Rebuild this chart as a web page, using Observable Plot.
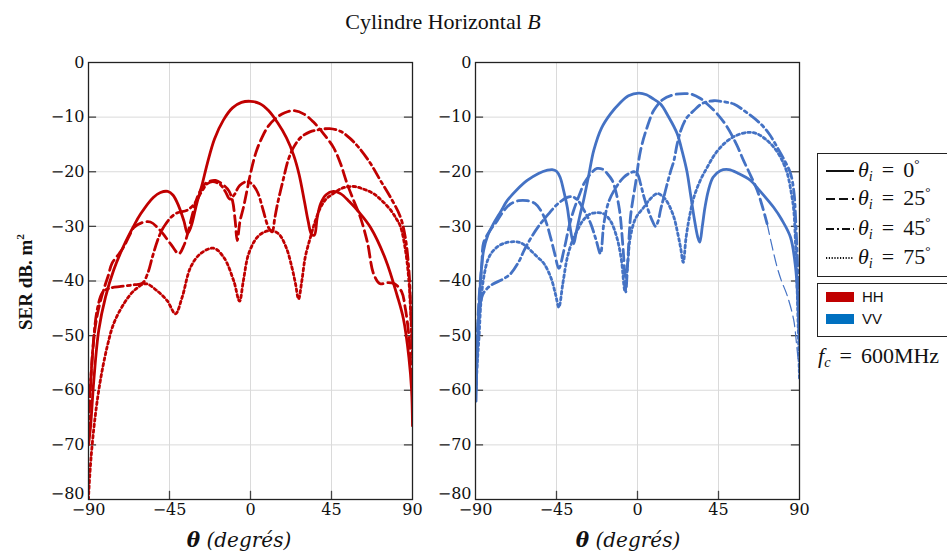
<!DOCTYPE html>
<html><head><meta charset="utf-8">
<script src="https://cdn.jsdelivr.net/npm/d3@7"></script>
<script src="https://cdn.jsdelivr.net/npm/@observablehq/plot@0.6"></script>
<style>
body{margin:0;background:#fff;}
#wrap{position:relative;width:947px;height:552px;overflow:hidden;font-family:"Liberation Serif",serif;color:#111;}
.abs{position:absolute;white-space:nowrap;}
.box{border:1.3px solid #222;box-sizing:border-box;}
.eq{margin:0 9px;}
sub{font-size:0.65em;vertical-align:-0.3em;line-height:0;}
sup{font-size:0.6em;vertical-align:0.7em;line-height:0;}
</style></head><body><div id="wrap"></div>
<script>
// ---- data ----
const thetaTicks = [-90, -45, 0, 45, 90];
const dbTicks = [0, -10, -20, -30, -40, -50, -60, -70, -80];

// HH (left panel)
const hh0 = [[-90,-70],[-88.9,-66.8],[-87,-58],[-84.3,-49],[-80.6,-43],[-76,-38],[-70.5,-33.6],[-65,-30],[-61,-27.7],[-54,-24.7],[-50,-23.8],[-46,-23.6],[-43,-24.3],[-40,-26.2],[-37,-29],[-35,-31.3],[-33,-30],[-30,-26],[-27,-22.5],[-24,-18.5],[-20,-14],[-15,-10.5],[-10,-8.3],[-5,-7.3],[0,-7.1],[5,-7.5],[10,-8.8],[15,-11],[20,-13.8],[24,-17],[27,-20.5],[30,-25.5],[32,-29],[34,-31.5],[35.5,-31.6],[37,-28.5],[39,-25.8],[42,-24.2],[46,-23.6],[50,-24],[55,-25.5],[60,-27.3],[66.7,-30.2],[75,-36],[81.5,-42.7],[85,-47],[88,-54],[89.5,-60],[90,-66.5]];
const hh25 = [[-90,-64],[-88.5,-57],[-86.5,-49],[-84,-44.5],[-81,-41],[-79,-39],[-77,-36.8],[-73,-35],[-70.5,-33.8],[-67,-31.5],[-64.8,-30.2],[-60,-29.3],[-55.6,-29.2],[-50,-30.8],[-44.4,-33.2],[-39.8,-35],[-37,-33.5],[-35,-31.4],[-32,-27.5],[-29.6,-24.7],[-26,-22.5],[-24,-21.9],[-19.4,-21.6],[-14.8,-22.5],[-12,-23.5],[-10,-25.3],[-8.5,-29],[-7.4,-32.6],[-5.8,-29],[-3.9,-26.5],[-2,-23.5],[0,-20.3],[3,-16.5],[5.6,-14.3],[10,-11.6],[14.8,-10],[19,-9.2],[24,-8.8],[30,-9.5],[35,-10.9],[40,-12.8],[46,-15.5],[50,-18.5],[53.7,-22.2],[57,-25],[61,-28.3],[65,-33],[68.4,-38.7],[72,-40.5],[76,-40.3],[80,-40.5],[84,-42],[86,-45],[88,-50],[89,-55],[90,-60]];
const hh45 = [[-90,-68],[-89,-60],[-87.5,-52],[-85,-45],[-82,-42],[-78,-41.3],[-72,-41],[-65,-40.7],[-60,-40.4],[-57,-38.5],[-54.5,-35.6],[-51,-32],[-48,-30],[-44,-28.3],[-40.6,-27.5],[-35,-27],[-31,-25.8],[-27.8,-24],[-24,-22.2],[-21,-21.8],[-17,-22.3],[-14,-23.6],[-11.5,-25],[-9,-24.2],[-6,-22.5],[-2,-21.8],[1,-22.3],[4,-23.8],[7,-27],[10,-30.2],[12,-31],[13.5,-28.5],[15,-25.9],[18.5,-21],[21,-17.8],[24,-15.5],[28,-13.7],[33,-12.7],[38,-12.3],[44,-12.1],[50,-12.6],[55,-13.8],[60,-15.5],[66.7,-18.5],[72,-21.5],[77.8,-24.7],[83.3,-28.3],[86,-32],[88,-38],[89,-45],[90,-54]];
const hh75 = [[-90,-80],[-89.8,-78.4],[-88.5,-72],[-86.1,-64.3],[-83.3,-58],[-79.6,-52],[-76,-47.8],[-70.4,-44.2],[-64.8,-41.8],[-58.3,-40.5],[-51.9,-41.8],[-46.3,-43.6],[-41.7,-46],[-38,-43],[-33.3,-37.5],[-27.8,-35],[-20.5,-34],[-14.8,-35.7],[-9.3,-40],[-6.1,-43.7],[-4,-40],[-1,-35],[3.7,-32],[8,-31],[12,-30.8],[16,-31.5],[20,-34],[23,-37.5],[25,-40.5],[26.7,-43.3],[28.5,-40],[30.5,-35.5],[33.3,-32],[36,-29],[39,-26.5],[42,-25],[46,-24],[51,-23],[57.3,-22.7],[63,-23.2],[68.3,-24],[73,-25.3],[77.8,-27],[81,-28.6],[83.3,-30],[86.1,-34.4],[88,-40],[89,-46],[90,-54]];

// VV (right panel)
const vv0 = [[-89.7,-62],[-89,-52],[-88,-45],[-87.2,-40],[-85.5,-34.4],[-83,-31.5],[-80,-29.5],[-76,-27.3],[-72.4,-25.3],[-67,-23.3],[-61.3,-21.6],[-55,-20.3],[-50,-19.7],[-47.4,-19.6],[-45,-19.9],[-43,-21],[-41,-23.5],[-39,-26.5],[-37.5,-30],[-35.5,-33.2],[-34,-31],[-32,-28],[-30,-25.3],[-27,-20.5],[-24.3,-16.1],[-20,-12],[-15,-9.4],[-10,-7.5],[-5,-6.1],[0.75,-5.6],[5,-5.9],[8,-6.5],[12.8,-7.6],[17,-9.8],[22,-13],[25,-16.5],[27.5,-20],[29.4,-24],[31.5,-28.5],[33.5,-32],[34.6,-32.9],[36,-30],[37.5,-26.5],[39.4,-23.4],[42,-21],[46,-19.8],[50.7,-19.6],[56,-20.3],[62.8,-21.6],[68,-23.5],[75.6,-26.5],[80,-28.7],[85,-32],[87.8,-37.5],[89,-43],[90,-51]];
const vv25 = [[-89.7,-58],[-89,-50],[-88,-43],[-86.5,-37],[-85.5,-33],[-82,-30.8],[-78,-29],[-74,-27],[-70.6,-25.9],[-66,-25.3],[-61.3,-25.3],[-57,-25.8],[-53.9,-27],[-51,-29],[-48.3,-32],[-46,-35],[-43.7,-37.7],[-40.9,-34.4],[-38,-30],[-35.4,-27],[-32,-24],[-29.8,-22.2],[-25,-20],[-22.4,-19.4],[-19,-19.6],[-16.9,-20.3],[-14,-21.6],[-12.2,-23.4],[-10,-27],[-8.5,-32],[-7.2,-38],[-6.5,-42],[-5.5,-37],[-3.9,-28.3],[-2.5,-25],[-1.1,-22.2],[1.7,-16.1],[5.4,-11.8],[9,-8.8],[14,-6.8],[20,-5.9],[26,-5.7],[30,-5.8],[35,-6.6],[38.7,-7.6],[44,-9.3],[49.8,-11.8],[55,-15],[59,-18],[63,-20.8],[66.5,-23.4],[69.5,-26.5],[72,-29.5]];
const vv25tail = [[72,-29.5],[75,-34],[77.6,-37.5],[80,-40],[83,-42.5],[86.7,-47],[88.5,-52],[90,-57]];
const vv45 = [[-89.7,-60],[-89,-52],[-88,-46],[-86,-42.5],[-83,-41.2],[-80,-40.5],[-75,-39.7],[-70.6,-38.7],[-66,-36.5],[-63,-34.4],[-59,-32],[-55,-30],[-49.4,-27.7],[-44,-25.8],[-39,-24.7],[-36,-24.6],[-33,-25.3],[-29.8,-27],[-26,-29.5],[-23,-32.5],[-20.6,-35],[-18.7,-29.5],[-16,-25.5],[-12.2,-23],[-7.6,-21],[-4,-20.2],[-2,-20],[0,-20.4],[1.7,-22.2],[3.5,-24.5],[5.4,-26.5],[8,-28.8],[10,-30],[11.5,-29],[12.8,-27],[14.5,-24.8],[16.5,-22.2],[18.5,-19.8],[20.2,-18],[22,-15],[24,-12.5],[27,-10.3],[31.3,-8.8],[36,-7.5],[42.4,-7],[48,-7.2],[53.5,-7.6],[60,-9],[68.3,-11.2],[73,-13],[77.6,-15.5],[81,-17.5],[85,-20.3],[87,-24],[87.8,-28.3],[88.8,-36],[89.5,-44],[90,-50]];
const vv75 = [[-89.7,-60],[-89,-55],[-88,-50],[-87,-44],[-85.4,-39.3],[-83,-36],[-80,-34.4],[-75,-33.2],[-68.7,-32.8],[-65,-33],[-61.3,-33.8],[-56,-35.5],[-52,-36.8],[-48,-39.5],[-45.5,-42.5],[-43.7,-44.8],[-41.5,-40.5],[-39,-35.7],[-36,-32.5],[-33.5,-30.8],[-30,-28.8],[-26,-27.7],[-22,-27.5],[-18.7,-27.7],[-15,-29],[-11.5,-32],[-9,-36],[-7,-41.8],[-5.5,-37],[-4,-32],[-1,-28.5],[3.5,-26.5],[7,-25],[11,-24],[14,-24.5],[17,-25.8],[20.2,-28.3],[22.5,-31.5],[24,-34],[25.4,-36.6],[27,-32],[29,-28],[31.3,-24.7],[35,-21.5],[38.7,-19.2],[43,-16.8],[48,-14.9],[54,-13.5],[61,-12.8],[66,-13],[71,-14],[75.7,-15.5],[80,-17.7],[83.2,-20.3],[85.5,-24],[86.8,-27],[88,-35],[89,-45],[90,-58]];

const legendLabels = ["0", "25", "45", "75"];
const polarLabels = ["HH", "VV"];
const fcLabel = "600MHz";

// ---- styles ----
const HH_COLOR = "#c00000";
const VV_COLOR = "#4472c4";
const VV_SWATCH = "#0070c0";
const DASH = {solid: null, dashed: "11,5", dashdot: "11,4,3,4", dotted: "2.6,3"};
const fmt = d => d < 0 ? "\u2212" + Math.abs(d) : String(d);
const TICKFONT = "DejaVu Serif, serif";

function panel(curves, color, width, marginLeft, marginRight) {
  const lines = curves.map(c => Plot.line(c.data, {
    x: d => d[0], y: d => d[1], stroke: color, strokeWidth: c.w || 2.8,
    strokeDasharray: DASH[c.style], curve: "catmull-rom", clip: true,
    strokeLinejoin: "round"
  }));
  return Plot.plot({
    width, height: 552, marginLeft, marginRight, marginTop: 62, marginBottom: 53,
    x: {domain: [-90, 90], label: null},
    y: {domain: [-80, 0], label: null},
    style: {fontFamily: TICKFONT, fontSize: "16px", color: "#111", background: "transparent", overflow: "visible"},
    marks: [
      Plot.gridX([-45, 0, 45], {stroke: "#dadada", strokeOpacity: 1, strokeWidth: 1}),
      Plot.gridY(dbTicks.slice(1, -1), {stroke: "#dadada", strokeOpacity: 1, strokeWidth: 1}),
      Plot.ruleY(dbTicks.slice(1, -1), {y: d => d, x1: -90, x2: -85.5, stroke: "#444", strokeWidth: 1.3}),
      Plot.ruleY(dbTicks.slice(1, -1), {y: d => d, x1: 85.5, x2: 90, stroke: "#444", strokeWidth: 1.3}),
      Plot.ruleX([-45, 0, 45], {x: d => d, y1: -80, y2: -78.5, stroke: "#444", strokeWidth: 1.3}),
      Plot.axisX(thetaTicks, {tickSize: 0, tickPadding: 4, tickFormat: fmt, fontSize: 16}),
      Plot.axisY(dbTicks.slice(0, -1), {tickSize: 0, tickPadding: 4, tickFormat: fmt, fontSize: 16}),
      Plot.axisY([-80], {tickSize: 0, tickPadding: 4, tickFormat: fmt, fontSize: 16, dy: -6}),
      ...lines,
      Plot.frame({stroke: "#222", strokeWidth: 1.3})
    ]
  });
}

const wrap = document.getElementById("wrap");
const left = panel([
  {data: hh0, style: "solid"}, {data: hh25, style: "dashed"},
  {data: hh45, style: "dashdot"}, {data: hh75, style: "dotted"}
], HH_COLOR, 440, 88, 28);
left.style.position = "absolute"; left.style.left = "0px"; left.style.top = "0px";
wrap.appendChild(left);

const right = panel([
  {data: vv0, style: "solid"}, {data: vv25, style: "dashed"}, {data: vv25tail, style: "dashed", w: 1.2},
  {data: vv45, style: "dashdot"}, {data: vv75, style: "dotted"}
], VV_COLOR, 380, 35, 21);
right.style.position = "absolute"; right.style.left = "440px"; right.style.top = "0px";
wrap.appendChild(right);

function add(html, css) {
  const el = document.createElement("div");
  el.className = "abs";
  el.innerHTML = html;
  Object.assign(el.style, css);
  wrap.appendChild(el);
  return el;
}
// title
add('Cylindre Horizontal <i>B</i>', {left: "0px", width: "886px", textAlign: "center", top: "9px", fontSize: "22px"});
// y label
add('SER dB. m<sup>2</sup>', {left: "26px", top: "282px", transform: "translate(-50%,-50%) rotate(-90deg)", fontSize: "19px", fontWeight: "bold"});
// x labels
const xl = '<b><i>θ</i></b> <i>(degrés)</i>';
const xlCss = {top: "540px", transform: "translate(-50%,-50%)", fontSize: "20px", fontFamily: "DejaVu Serif, serif"};
add(xl, Object.assign({left: "239px"}, xlCss));
add(xl, Object.assign({left: "628px"}, xlCss));

// legend box 1
add('', {left: "817px", top: "153px", width: "150px", height: "124px"}).classList.add("box");
const rowY = [171, 199, 229, 258];
const styleKeys = ["solid", "dashed", "dashdot", "dotted"];
const sampleDash = {solid: "", dashed: "9,4", dashdot: "8,3,2,3", dotted: "1.2,1.6"};
legendLabels.forEach((lab, i) => {
  const da = sampleDash[styleKeys[i]];
  add(`<svg width="28" height="6"><line x1="0" y1="3" x2="28" y2="3" stroke="#111" stroke-width="2" ${da ? `stroke-dasharray="${da}"` : ""}/></svg>`,
      {left: "826px", top: (rowY[i] - 3) + "px", height: "6px", lineHeight: "0"});
  add(`<i>θ</i><sub><i>i</i></sub><span class="eq">=</span>${lab}<sup>°</sup>`, {left: "858px", top: (rowY[i] - 12) + "px", fontSize: "22px", lineHeight: "22px"});
});
// legend box 2
add('', {left: "817px", top: "283px", width: "150px", height: "54px"}).classList.add("box");
const swCols = [HH_COLOR, VV_SWATCH];
polarLabels.forEach((lab, i) => {
  const y = 297 + i * 22;
  add('', {left: "826px", top: (y - 5) + "px", width: "28px", height: "10px", background: swCols[i]});
  add(lab, {left: "862px", top: (y - 9) + "px", fontSize: "15px", lineHeight: "18px", fontFamily: "Liberation Sans, Arial, sans-serif"});
});
// frequency
add(`<i>f</i><sub><i>c</i></sub><span class="eq">=</span>${fcLabel}`, {left: "818px", top: "345px", fontSize: "22px", lineHeight: "22px"});
</script>
</body></html>
